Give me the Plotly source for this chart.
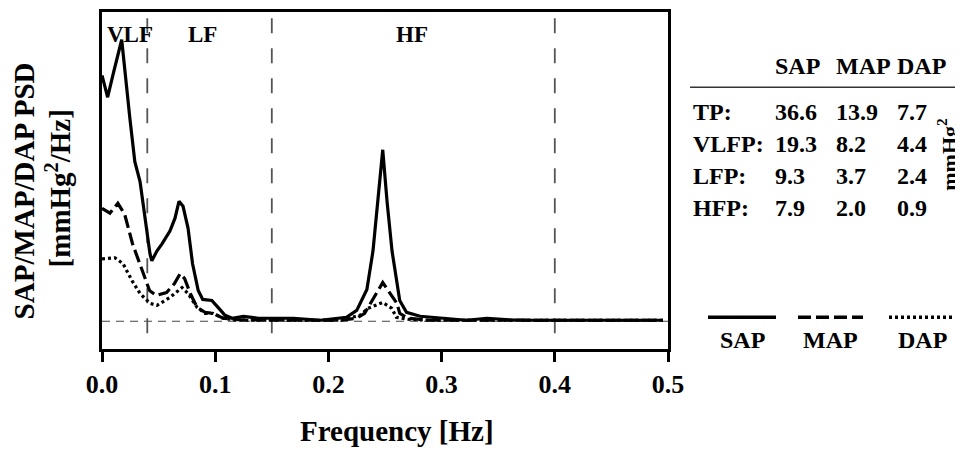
import plotly.graph_objects as go

# ---------------- data ----------------
sap_freq = [0.000, 0.005, 0.010, 0.0174, 0.0247, 0.029, 0.0336, 0.038, 0.0424, 0.044, 0.0486, 0.053,
            0.060, 0.0645, 0.068, 0.0716, 0.076, 0.080, 0.085, 0.089, 0.097, 0.1025, 0.1087, 0.115,
            0.125, 0.138, 0.151, 0.169, 0.193, 0.210, 0.216, 0.225, 0.234, 0.2394, 0.2438, 0.248,
            0.2518, 0.2562, 0.263, 0.269, 0.281, 0.299, 0.322, 0.340, 0.36, 0.38, 0.40, 0.42, 0.44,
            0.46, 0.48, 0.4955]
sap_psd = [24.8, 22.6, 25.0, 28.4, 20.4, 16.1, 14.1, 10.4, 6.8, 6.1, 7.1, 7.8,
           9.1, 10.4, 12.1, 11.6, 9.4, 5.8, 3.1, 2.2, 2.1, 1.4, 0.6, 0.3,
           0.5, 0.3, 0.3, 0.3, 0.1, 0.3, 0.4, 1.1, 3.2, 7.1, 12.1, 17.3,
           12.1, 7.1, 2.1, 0.9, 0.5, 0.3, 0.1, 0.3, 0.15, 0.1, 0.1, 0.15, 0.1,
           0.1, 0.1, 0.1]

map_freq = [0.000, 0.007, 0.014, 0.020, 0.027, 0.035, 0.042, 0.048, 0.057, 0.064, 0.069, 0.073,
            0.078, 0.084, 0.091, 0.098, 0.107, 0.120, 0.150, 0.180, 0.210, 0.225, 0.232, 0.237,
            0.248, 0.2606, 0.263, 0.270, 0.290, 0.330, 0.400, 0.4955]
map_psd = [11.4, 10.9, 11.9, 10.8, 7.8, 5.4, 3.1, 2.6, 2.9, 3.8, 4.8, 4.3,
           2.8, 1.4, 0.9, 0.8, 0.3, 0.15, 0.1, 0.1, 0.1, 0.3, 0.8, 1.8,
           3.9, 1.8, 0.8, 0.3, 0.1, 0.1, 0.1, 0.1]

dap_freq = [0.000, 0.0115, 0.0186, 0.0265, 0.0336, 0.0424, 0.0486, 0.060, 0.0707, 0.076, 0.084,
            0.091, 0.098, 0.107, 0.120, 0.150, 0.180, 0.210, 0.228, 0.235, 0.248, 0.256, 0.260,
            0.270, 0.290, 0.330, 0.400, 0.4955]
dap_psd = [6.3, 6.4, 5.8, 4.1, 2.8, 1.8, 1.6, 2.4, 3.4, 2.8, 1.4,
           0.8, 0.8, 0.3, 0.1, 0.1, 0.1, 0.1, 0.6, 1.3, 1.9, 1.3, 0.4,
           0.2, 0.1, 0.1, 0.1, 0.1]

band_edges = [0.04, 0.15, 0.40]
band_labels = ["VLF", "LF", "HF"]
band_label_freq = [0.025, 0.089, 0.274]

x_ticks = [0.0, 0.1, 0.2, 0.3, 0.4, 0.5]
x_ticktext = ["0.0", "0.1", "0.2", "0.3", "0.4", "0.5"]

table_cols = ["SAP", "MAP", "DAP"]
row_labels = ["TP:", "VLFP:", "LFP:", "HFP:"]
sap_power = [36.6, 19.3, 9.3, 7.9]
map_power = [13.9, 8.2, 3.7, 2.0]
dap_power = [7.7, 4.4, 2.4, 0.9]

# ---------------- layout geometry (window pixels) ----------------
OFF = 8  # page body margin
WIN_W, WIN_H = 963, 450
W, H = WIN_W - OFF, WIN_H - OFF
L, R, T, B = 102, 668, 9, 349  # plot frame in window pixels
FONT = "Liberation Serif"


def px(x):
    return (x - L) / (R - L)


def py(y):
    return (B - y) / (B - T)


fig = go.Figure()

# baseline (dashed)
fig.add_shape(type="line", xref="x", yref="y", x0=0, x1=0.5, y0=0, y1=0,
              line=dict(color="#444", width=1.2, dash="8px,6px"), layer="below")
# band boundaries
for e in band_edges:
    fig.add_shape(type="line", xref="x", yref="y", x0=e, x1=e, y0=-1.2, y1=31.1,
                  line=dict(color="#555", width=1.8, dash="15px,15px"), layer="below")

fig.add_trace(go.Scatter(x=dap_freq, y=dap_psd, mode="lines", name="DAP",
                         line=dict(color="black", width=3.2, dash="3px,3px")))
fig.add_trace(go.Scatter(x=map_freq, y=map_psd, mode="lines", name="MAP",
                         line=dict(color="black", width=3.2, dash="13px,5px")))
fig.add_trace(go.Scatter(x=sap_freq, y=sap_psd, mode="lines", name="SAP",
                         line=dict(color="black", width=3.2)))

annotations = []
# band labels
for lab, f in zip(band_labels, band_label_freq):
    annotations.append(dict(x=f, y=py(32), xref="x", yref="paper", text=f"<b>{lab}</b>", showarrow=False,
                            font=dict(family=FONT, size=23, color="black"),
                            xanchor="center", yanchor="middle"))

# axis titles
annotations.append(dict(x=px(397), y=py(432), xref="paper", yref="paper",
                        text="<b>Frequency [Hz]</b>", showarrow=False,
                        font=dict(family=FONT, size=29, color="black"),
                        xanchor="center", yanchor="middle"))
annotations.append(dict(x=px(24), y=py(190), xref="paper", yref="paper",
                        text="<b>SAP/MAP/DAP PSD</b>", showarrow=False, textangle=-90,
                        font=dict(family=FONT, size=29, color="black"), borderpad=0,
                        xanchor="center", yanchor="middle"))
annotations.append(dict(x=px(58), y=py(187), xref="paper", yref="paper",
                        text="<b>[mmHg<sup>2</sup>/Hz]</b>", showarrow=False, textangle=-90,
                        font=dict(family=FONT, size=29, color="black"),
                        xanchor="center", yanchor="middle"))

# table
col_x = [773, 834, 895]
tfont = dict(family=FONT, size=24, color="black")
for c, x in zip(table_cols, col_x):
    annotations.append(dict(x=px(x), y=py(63.5), xref="paper", yref="paper", text=f"<b>{c}</b>",
                            showarrow=False, font=tfont, xanchor="left", yanchor="middle"))
row_y = [110, 142.5, 174.5, 207]
for i, lab in enumerate(row_labels):
    annotations.append(dict(x=px(691), y=py(row_y[i]), xref="paper", yref="paper", text=f"<b>{lab}</b>",
                            showarrow=False, font=tfont, xanchor="left", yanchor="middle"))
    for vals, x in zip([sap_power, map_power, dap_power], col_x):
        annotations.append(dict(x=px(x), y=py(row_y[i]), xref="paper", yref="paper",
                                text=f"<b>{vals[i]:.1f}</b>", showarrow=False, font=tfont,
                                xanchor="left", yanchor="middle"))
annotations.append(dict(x=px(947), y=py(153), xref="paper", yref="paper",
                        text="<b>mmHg<sup>2</sup></b>", showarrow=False, textangle=-90,
                        font=dict(family=FONT, size=22, color="black"),
                        xanchor="center", yanchor="middle"))
fig.add_shape(type="line", xref="paper", yref="paper", x0=px(690), x1=px(960), y0=py(85), y1=py(85),
              line=dict(color="#333", width=1.5))

# legend (custom)
leg = [("SAP", 708, 776, "solid"), ("MAP", 798, 863, "13px,5px"), ("DAP", 889, 955, "3px,3px")]
for name, x0, x1, d in leg:
    fig.add_shape(type="line", xref="paper", yref="paper", x0=px(x0), x1=px(x1), y0=py(317), y1=py(317),
                  line=dict(color="black", width=3.5, dash=d))
    annotations.append(dict(x=px((x0 + x1) / 2), y=py(340), xref="paper", yref="paper",
                            text=f"<b>{name}</b>", showarrow=False, font=tfont,
                            xanchor="center", yanchor="middle"))

fig.update_layout(
    width=W, height=H,
    margin=dict(l=L - OFF, r=WIN_W - R, t=T - OFF, b=WIN_H - B),
    paper_bgcolor="white", plot_bgcolor="white",
    showlegend=False,
    annotations=annotations,
    font=dict(family=FONT, color="black"),
)
fig.update_xaxes(range=[0, 0.5], tickvals=x_ticks, ticktext=[f"<b>{t}</b>" for t in x_ticktext],
                 tickfont=dict(family=FONT, size=26, color="black"),
                 ticks="outside", ticklen=10, tickwidth=3, tickcolor="black",
                 showline=True, linewidth=3, linecolor="black", mirror=True,
                 showgrid=False, zeroline=False)
fig.update_yaxes(range=[-2.8, 31.2], showticklabels=False, ticks="",
                 showline=True, linewidth=3, linecolor="black", mirror=True,
                 showgrid=False, zeroline=False)

fig.write_html("out.html")
